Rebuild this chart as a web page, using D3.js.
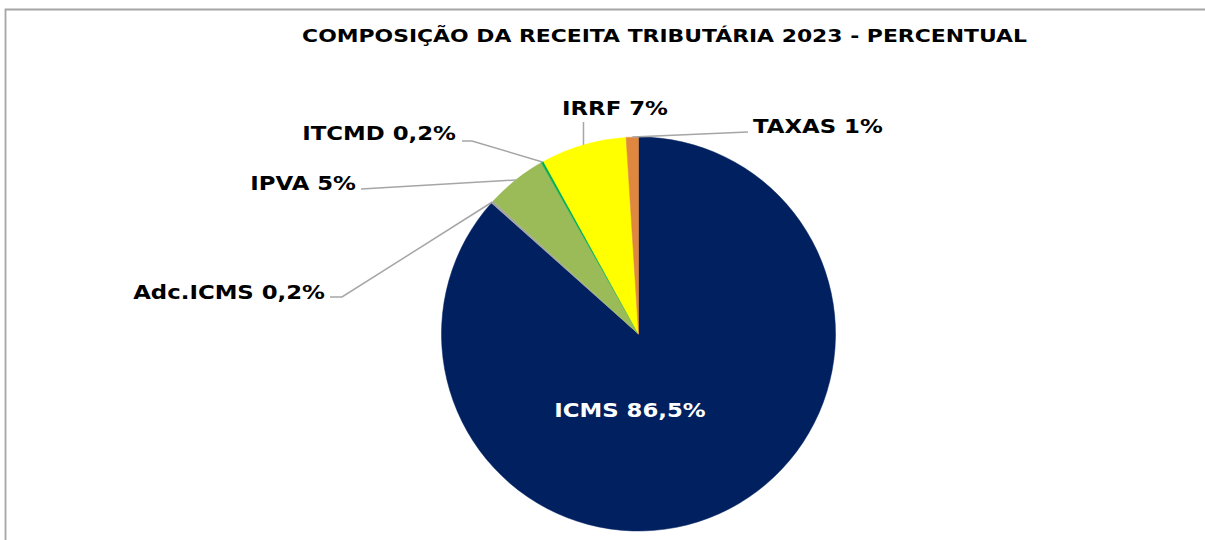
<!DOCTYPE html>
<html>
<head>
<meta charset="utf-8">
<script src="https://cdn.jsdelivr.net/npm/d3@7"></script>
<style>
  html, body { margin: 0; padding: 0; background: #fff; }
  svg { display: block; font-family: "DejaVu Sans", Verdana, sans-serif; }
</style>
</head>
<body>
<svg id="chart" width="1205" height="540"></svg>
<script>
// ---- data ----
var categories = ["ICMS", "Adc.ICMS", "IPVA", "ITCMD", "IRRF", "TAXAS"];
var shares     = [86.5, 0.2, 5, 0.2, 7, 1];
var labelTexts = ["ICMS 86,5%", "Adc.ICMS 0,2%", "IPVA 5%", "ITCMD 0,2%", "IRRF 7%", "TAXAS 1%"];
var colors     = ["#002060", "#a5a5a5", "#9bbb59", "#00b050", "#ffff00", "#e0873f"];
var title      = "COMPOSIÇÃO DA RECEITA TRIBUTÁRIA 2023 - PERCENTUAL";

// ---- label layout (text anchor point + leader elbow), by category ----
var labelLayout = {
  "ICMS":     { x: 630, y: 410, anchor: "middle", inside: true },
  "Adc.ICMS": { x: 325, y: 292, anchor: "end", elbow: [[342, 297], [330, 297]] },
  "IPVA":     { x: 356, y: 183, anchor: "end", elbow: [[361, 189]] },
  "ITCMD":    { x: 456, y: 133, anchor: "end", elbow: [[472, 141], [462, 141]] },
  "IRRF":     { x: 615, y: 108, anchor: "middle", vertical: 122 },
  "TAXAS":    { x: 753, y: 126, anchor: "start", elbow: [[748, 132]] }
};

// DejaVu is narrower than the Verdana of the original: stretch glyphs a bit
function widen(sel, k) {
  sel.each(function () {
    var w = this.getComputedTextLength();
    d3.select(this).attr("textLength", w * k).attr("lengthAdjust", "spacingAndGlyphs");
  });
}

var svg = d3.select("#chart");
var W = 1205, H = 540;

// frame (top + left edges visible, like the cropped Excel chart area)
svg.append("path")
  .attr("d", "M5.5," + H + " V9.5 H" + W)
  .attr("fill", "none")
  .attr("stroke", "#a6a6a6")
  .attr("stroke-width", 1.8);

svg.append("text")
  .attr("x", 664.5).attr("y", 36).attr("dy", "0.36em")
  .attr("text-anchor", "middle")
  .attr("font-size", 17.5).attr("font-weight", "bold")
  .attr("fill", "#000")
  .text(title)
  .call(widen, 1.25);

var cx = 638.5, cy = 334, R = 197;
var g = svg.append("g").attr("transform", "translate(" + cx + "," + cy + ")");

var data = categories.map(function (c, i) {
  return { name: c, value: shares[i], color: colors[i], label: labelTexts[i] };
});

var pie = d3.pie().sort(null).value(function (d) { return d.value; });
var arc = d3.arc().innerRadius(0).outerRadius(R);
var arcs = pie(data);

g.selectAll("path.slice").data(arcs).enter().append("path")
  .attr("class", "slice")
  .attr("d", arc)
  .attr("fill", function (d) { return d.data.color; })
  .attr("stroke", function (d) { return d.data.color; })
  .attr("stroke-width", 0.5);

// leader lines from the slice rim to each outside label
var lead = svg.append("g");
arcs.forEach(function (d) {
  var L = labelLayout[d.data.name];
  if (L.inside) return;
  var mid = (d.startAngle + d.endAngle) / 2;
  var p0 = [cx + R * Math.sin(mid), cy - R * Math.cos(mid)];
  var pts = [p0];
  if (L.vertical != null) pts.push([p0[0], L.vertical]);
  else pts = pts.concat(L.elbow);
  lead.append("path")
    .attr("d", d3.line()(pts))
    .attr("fill", "none")
    .attr("stroke", "#a6a6a6")
    .attr("stroke-width", 1.5);
});

// labels
arcs.forEach(function (d) {
  var L = labelLayout[d.data.name];
  svg.append("text")
    .attr("x", L.x).attr("y", L.y).attr("dy", "0.36em")
    .attr("text-anchor", L.anchor)
    .attr("font-size", 19.5).attr("font-weight", "bold")
    .attr("fill", L.inside ? "#fff" : "#000")
    .text(d.data.label)
    .call(widen, 1.17);
});
</script>
</body>
</html>
